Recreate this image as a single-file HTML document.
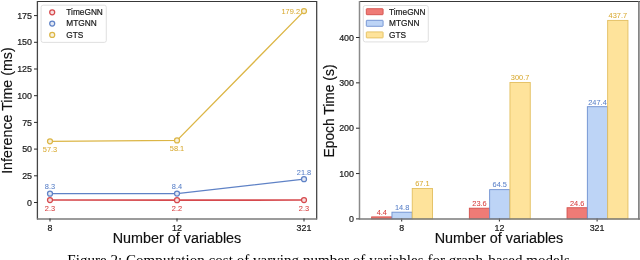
<!DOCTYPE html>
<html><head><meta charset="utf-8"><style>
html,body{margin:0;padding:0;background:#fff;overflow:hidden}
svg{display:block;will-change:transform}
text{font-family:"Liberation Sans", sans-serif}
.tk{font-size:8.9px;fill:#1a1a1a;stroke:#1a1a1a;stroke-width:0.2px}
.dl{font-size:7.4px}
.lg{font-size:8.3px;fill:#1a1a1a;stroke:#1a1a1a;stroke-width:0.2px}
.al{font-size:13.8px;fill:#111;stroke:#111;stroke-width:0.15px}
.cap{font-family:"Liberation Serif",serif;font-size:15.1px;fill:#000}
</style></head><body>
<svg width="640" height="260" viewBox="0 0 640 260">
<line x1="37.5" y1="1.5" x2="316.7" y2="1.5" stroke="#383838" stroke-width="1.2"/>
<line x1="316.7" y1="1" x2="316.7" y2="219.5" stroke="#383838" stroke-width="1.2"/>
<line x1="37.4" y1="1" x2="37.4" y2="219.5" stroke="#454545" stroke-width="1.3"/>
<line x1="37" y1="218.9" x2="317" y2="218.9" stroke="#7a7a7a" stroke-width="1.5"/>
<line x1="34.0" y1="202.50" x2="37.5" y2="202.50" stroke="#2b2b2b" stroke-width="1"/>
<text x="32.0" y="205.60" text-anchor="end" class="tk">0</text>
<line x1="34.0" y1="175.80" x2="37.5" y2="175.80" stroke="#2b2b2b" stroke-width="1"/>
<text x="32.0" y="178.90" text-anchor="end" class="tk">25</text>
<line x1="34.0" y1="149.10" x2="37.5" y2="149.10" stroke="#2b2b2b" stroke-width="1"/>
<text x="32.0" y="152.20" text-anchor="end" class="tk">50</text>
<line x1="34.0" y1="122.40" x2="37.5" y2="122.40" stroke="#2b2b2b" stroke-width="1"/>
<text x="32.0" y="125.50" text-anchor="end" class="tk">75</text>
<line x1="34.0" y1="95.70" x2="37.5" y2="95.70" stroke="#2b2b2b" stroke-width="1"/>
<text x="32.0" y="98.80" text-anchor="end" class="tk">100</text>
<line x1="34.0" y1="69.00" x2="37.5" y2="69.00" stroke="#2b2b2b" stroke-width="1"/>
<text x="32.0" y="72.10" text-anchor="end" class="tk">125</text>
<line x1="34.0" y1="42.30" x2="37.5" y2="42.30" stroke="#2b2b2b" stroke-width="1"/>
<text x="32.0" y="45.40" text-anchor="end" class="tk">150</text>
<line x1="34.0" y1="15.60" x2="37.5" y2="15.60" stroke="#2b2b2b" stroke-width="1"/>
<text x="32.0" y="18.70" text-anchor="end" class="tk">175</text>
<line x1="50" y1="218.5" x2="50" y2="221.5" stroke="#2b2b2b" stroke-width="1"/>
<text x="50" y="230.5" text-anchor="middle" class="tk">8</text>
<line x1="177" y1="218.5" x2="177" y2="221.5" stroke="#2b2b2b" stroke-width="1"/>
<text x="177" y="230.5" text-anchor="middle" class="tk">12</text>
<line x1="304" y1="218.5" x2="304" y2="221.5" stroke="#2b2b2b" stroke-width="1"/>
<text x="304" y="230.5" text-anchor="middle" class="tk">321</text>
<polyline points="50,141.30 177,140.45 304,11.11" fill="none" stroke="#dcb646" stroke-width="1.3"/>
<circle cx="50" cy="141.30" r="2.5" fill="#f8f1dd" stroke="#dcb646" stroke-width="1.25"/>
<circle cx="177" cy="140.45" r="2.5" fill="#f8f1dd" stroke="#dcb646" stroke-width="1.25"/>
<circle cx="304" cy="11.11" r="2.5" fill="#f8f1dd" stroke="#dcb646" stroke-width="1.25"/>
<polyline points="50,193.64 177,193.53 304,179.22" fill="none" stroke="#5f82c6" stroke-width="1.3"/>
<circle cx="50" cy="193.64" r="2.5" fill="#e2e8f4" stroke="#5f82c6" stroke-width="1.25"/>
<circle cx="177" cy="193.53" r="2.5" fill="#e2e8f4" stroke="#5f82c6" stroke-width="1.25"/>
<circle cx="304" cy="179.22" r="2.5" fill="#e2e8f4" stroke="#5f82c6" stroke-width="1.25"/>
<polyline points="50,200.04 177,200.15 304,200.04" fill="none" stroke="#d6494d" stroke-width="1.6"/>
<circle cx="50" cy="200.04" r="2.5" fill="#f7dede" stroke="#d6494d" stroke-width="1.25"/>
<circle cx="177" cy="200.15" r="2.5" fill="#f7dede" stroke="#d6494d" stroke-width="1.25"/>
<circle cx="304" cy="200.04" r="2.5" fill="#f7dede" stroke="#d6494d" stroke-width="1.25"/>
<text x="50" y="152.30" text-anchor="middle" class="dl" fill="#d8aa32" stroke="#d8aa32" stroke-width="0.05">57.3</text>
<text x="177" y="151.45" text-anchor="middle" class="dl" fill="#d8aa32" stroke="#d8aa32" stroke-width="0.05">58.1</text>
<text x="300" y="13.71" text-anchor="end" class="dl" fill="#d8aa32" stroke="#d8aa32" stroke-width="0.05">179.2</text>
<text x="50" y="189.14" text-anchor="middle" class="dl" fill="#5a80c8" stroke="#5a80c8" stroke-width="0.05">8.3</text>
<text x="177" y="189.03" text-anchor="middle" class="dl" fill="#5a80c8" stroke="#5a80c8" stroke-width="0.05">8.4</text>
<text x="304" y="174.72" text-anchor="middle" class="dl" fill="#5a80c8" stroke="#5a80c8" stroke-width="0.05">21.8</text>
<text x="50" y="210.84" text-anchor="middle" class="dl" fill="#d63c3c" stroke="#d63c3c" stroke-width="0.05">2.3</text>
<text x="177" y="210.95" text-anchor="middle" class="dl" fill="#d63c3c" stroke="#d63c3c" stroke-width="0.05">2.2</text>
<text x="304" y="210.84" text-anchor="middle" class="dl" fill="#d63c3c" stroke="#d63c3c" stroke-width="0.05">2.3</text>
<rect x="41.1" y="5.2" width="65.2" height="37.2" rx="2" fill="#fff" fill-opacity="0.8" stroke="#d8d8d8" stroke-width="0.8"/>
<circle cx="52.2" cy="12.30" r="2.5" fill="#f7dede" stroke="#d6494d" stroke-width="1.25"/>
<text x="66.3" y="15.00" class="lg">TimeGNN</text>
<circle cx="52.2" cy="23.60" r="2.5" fill="#e2e8f4" stroke="#5f82c6" stroke-width="1.25"/>
<text x="66.3" y="26.30" class="lg">MTGNN</text>
<circle cx="52.2" cy="34.90" r="2.5" fill="#f8f1dd" stroke="#dcb646" stroke-width="1.25"/>
<text x="66.3" y="37.60" class="lg">GTS</text>
<text transform="translate(11.9,110.6) rotate(-90)" text-anchor="middle" textLength="126.5" lengthAdjust="spacingAndGlyphs" class="al">Inference Time (ms)</text>
<text x="177" y="243.1" text-anchor="middle" textLength="128.5" lengthAdjust="spacingAndGlyphs" class="al">Number of variables</text>
<line x1="359" y1="1.5" x2="640" y2="1.5" stroke="#383838" stroke-width="1.2"/>
<line x1="359.5" y1="1" x2="359.5" y2="219.5" stroke="#8a8a8a" stroke-width="1.5"/>
<line x1="638.9" y1="1" x2="638.9" y2="219.5" stroke="#707070" stroke-width="1.5"/>
<line x1="356.0" y1="218.90" x2="359.5" y2="218.90" stroke="#2b2b2b" stroke-width="1"/>
<text x="354.0" y="222.00" text-anchor="end" class="tk">0</text>
<line x1="356.0" y1="173.55" x2="359.5" y2="173.55" stroke="#2b2b2b" stroke-width="1"/>
<text x="354.0" y="176.65" text-anchor="end" class="tk">100</text>
<line x1="356.0" y1="128.20" x2="359.5" y2="128.20" stroke="#2b2b2b" stroke-width="1"/>
<text x="354.0" y="131.30" text-anchor="end" class="tk">200</text>
<line x1="356.0" y1="82.85" x2="359.5" y2="82.85" stroke="#2b2b2b" stroke-width="1"/>
<text x="354.0" y="85.95" text-anchor="end" class="tk">300</text>
<line x1="356.0" y1="37.50" x2="359.5" y2="37.50" stroke="#2b2b2b" stroke-width="1"/>
<text x="354.0" y="40.60" text-anchor="end" class="tk">400</text>
<rect x="371.65" y="216.90" width="20.3" height="2.00" fill="#ef7b76" stroke="#d3504c" stroke-width="0.9"/>
<text x="381.79999999999995" y="214.70" text-anchor="middle" class="dl" fill="#d63c3c" stroke="#d63c3c" stroke-width="0.05">4.4</text>
<rect x="391.95" y="212.19" width="20.3" height="6.71" fill="#bdd4f6" stroke="#6d8fd0" stroke-width="0.9"/>
<text x="402.09999999999997" y="209.99" text-anchor="middle" class="dl" fill="#5a80c8" stroke="#5a80c8" stroke-width="0.05">14.8</text>
<rect x="412.25" y="188.47" width="20.3" height="30.43" fill="#fee39b" stroke="#e3bf60" stroke-width="0.9"/>
<text x="422.4" y="186.27" text-anchor="middle" class="dl" fill="#d8aa32" stroke="#d8aa32" stroke-width="0.05">67.1</text>
<line x1="401.7" y1="218.5" x2="401.7" y2="221.5" stroke="#2b2b2b" stroke-width="1"/>
<text x="401.7" y="230.5" text-anchor="middle" class="tk">8</text>
<rect x="469.35" y="208.20" width="20.3" height="10.70" fill="#ef7b76" stroke="#d3504c" stroke-width="0.9"/>
<text x="479.49999999999994" y="206.00" text-anchor="middle" class="dl" fill="#d63c3c" stroke="#d63c3c" stroke-width="0.05">23.6</text>
<rect x="489.65" y="189.65" width="20.3" height="29.25" fill="#bdd4f6" stroke="#6d8fd0" stroke-width="0.9"/>
<text x="499.79999999999995" y="187.45" text-anchor="middle" class="dl" fill="#5a80c8" stroke="#5a80c8" stroke-width="0.05">64.5</text>
<rect x="509.95" y="82.53" width="20.3" height="136.37" fill="#fee39b" stroke="#e3bf60" stroke-width="0.9"/>
<text x="520.0999999999999" y="80.33" text-anchor="middle" class="dl" fill="#d8aa32" stroke="#d8aa32" stroke-width="0.05">300.7</text>
<line x1="499.4" y1="218.5" x2="499.4" y2="221.5" stroke="#2b2b2b" stroke-width="1"/>
<text x="499.4" y="230.5" text-anchor="middle" class="tk">12</text>
<rect x="567.05" y="207.74" width="20.3" height="11.16" fill="#ef7b76" stroke="#d3504c" stroke-width="0.9"/>
<text x="577.2" y="205.54" text-anchor="middle" class="dl" fill="#d63c3c" stroke="#d63c3c" stroke-width="0.05">24.6</text>
<rect x="587.35" y="106.70" width="20.3" height="112.20" fill="#bdd4f6" stroke="#6d8fd0" stroke-width="0.9"/>
<text x="597.5" y="104.50" text-anchor="middle" class="dl" fill="#5a80c8" stroke="#5a80c8" stroke-width="0.05">247.4</text>
<rect x="607.65" y="20.40" width="20.3" height="198.50" fill="#fee39b" stroke="#e3bf60" stroke-width="0.9"/>
<text x="617.8" y="18.20" text-anchor="middle" class="dl" fill="#d8aa32" stroke="#d8aa32" stroke-width="0.05">437.7</text>
<line x1="597.1" y1="218.5" x2="597.1" y2="221.5" stroke="#2b2b2b" stroke-width="1"/>
<text x="597.1" y="230.5" text-anchor="middle" class="tk">321</text>
<line x1="359" y1="218.9" x2="640" y2="218.9" stroke="#7a7a7a" stroke-width="1.5"/>
<rect x="363.3" y="5.5" width="65" height="36.4" rx="2" fill="#fff" fill-opacity="0.8" stroke="#d8d8d8" stroke-width="0.8"/>
<rect x="366.3" y="8.70" width="16.8" height="6.0" rx="0.6" fill="#ef7b76" stroke="#d3504c" stroke-width="0.9"/>
<text x="389" y="14.80" class="lg">TimeGNN</text>
<rect x="366.3" y="20.30" width="16.8" height="6.0" rx="0.6" fill="#bdd4f6" stroke="#6d8fd0" stroke-width="0.9"/>
<text x="389" y="26.40" class="lg">MTGNN</text>
<rect x="366.3" y="31.90" width="16.8" height="6.0" rx="0.6" fill="#fee39b" stroke="#e3bf60" stroke-width="0.9"/>
<text x="389" y="38.00" class="lg">GTS</text>
<text transform="translate(334.1,111) rotate(-90)" text-anchor="middle" textLength="93" lengthAdjust="spacingAndGlyphs" class="al">Epoch Time (s)</text>
<text x="499" y="243.1" text-anchor="middle" textLength="128.5" lengthAdjust="spacingAndGlyphs" class="al">Number of variables</text>
<text x="67.3" y="264.7" class="cap">Figure 2: Computation cost of varying number of variables for graph-based models.</text>
</svg></body></html>
